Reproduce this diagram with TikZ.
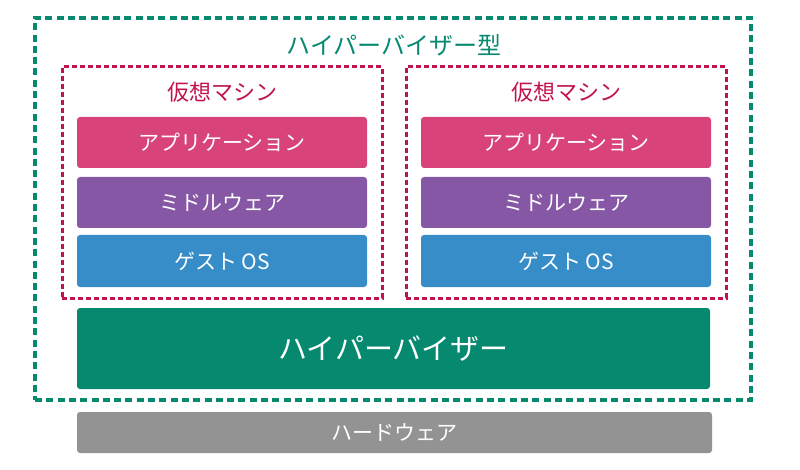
\documentclass[tikz,border=0pt]{standalone}
\usepackage{fontspec}
\setmainfont{Noto Sans CJK JP}
\definecolor{hvgreen}{HTML}{06896F}
\definecolor{vmred}{HTML}{C0134A}
\definecolor{appcol}{HTML}{D84479}
\definecolor{midcol}{HTML}{8657A5}
\definecolor{oscol}{HTML}{378DC8}
\definecolor{hwcol}{HTML}{939393}
\tikzset{
  layerbox/.style={draw=none, rounded corners=3pt, text=white, inner sep=0pt, font=\fontsize{21}{25}\selectfont},
  vmbox/.style={draw=vmred, line width=3pt, dash pattern=on 5pt off 3pt, minimum width=320pt, minimum height=231pt, inner sep=0pt},
  outerbox/.style={draw=hvgreen, line width=4pt, dash pattern=on 7pt off 4.3pt, minimum width=716pt, minimum height=382pt, inner sep=0pt},
  vmtitle/.style={text=vmred, inner sep=0pt, font=\fontsize{22}{26}\selectfont},
}
\begin{document}
\begin{tikzpicture}[x=1pt,y=-1pt]
\useasboundingbox (0,0) rectangle (800,470);
\node[outerbox] (outer) at (393,209) {};
\node[text=hvgreen, inner sep=0pt, font=\fontsize{24}{28}\selectfont] (title) at (394,45) {ハイパーバイザー型};
% left VM
\node[vmbox] (vm1) at (222,182.5) {};
\node[vmtitle] (vm1t) at (222,92) {仮想マシン};
\node[layerbox, fill=appcol, minimum width=290pt, minimum height=51pt] (app1) at (222,142.5) {アプリケーション};
\node[layerbox, fill=midcol, minimum width=290pt, minimum height=51pt] (mid1) at (222,202.5) {ミドルウェア};
\node[layerbox, fill=oscol, minimum width=290pt, minimum height=52pt] (os1) at (222,261) {ゲスト OS};
% right VM
\node[vmbox] (vm2) at (566,182.5) {};
\node[vmtitle] (vm2t) at (566,92) {仮想マシン};
\node[layerbox, fill=appcol, minimum width=290pt, minimum height=51pt] (app2) at (566,142.5) {アプリケーション};
\node[layerbox, fill=midcol, minimum width=290pt, minimum height=51pt] (mid2) at (566,202.5) {ミドルウェア};
\node[layerbox, fill=oscol, minimum width=290pt, minimum height=52pt] (os2) at (566,261) {ゲスト OS};
% hypervisor
\node[layerbox, fill=hvgreen, minimum width=633pt, minimum height=81pt, font=\fontsize{29}{33}\selectfont] (hv) at (393.5,348.5) {ハイパーバイザー};
% hardware
\node[layerbox, fill=hwcol, minimum width=635pt, minimum height=41pt, font=\fontsize{21}{25}\selectfont] (hw) at (394.5,432.5) {ハードウェア};
\end{tikzpicture}
\end{document}
